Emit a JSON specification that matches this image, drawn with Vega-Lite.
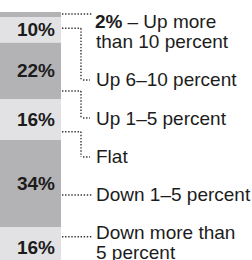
{
  "$schema": "https://vega.github.io/schema/vega-lite/v6.json",
  "width": 252,
  "height": 256,
  "autosize": {"type": "none"},
  "padding": {"top": 12, "left": 0, "right": 0, "bottom": 0},
  "background": "#ffffff",
  "config": {"view": {"stroke": null}, "text": {"font": "Liberation Sans", "color": "#1c1c1c"}},
  "data": {
    "values": [
      {"category": "Up more than 10 percent", "pct": 2, "share": "2%", "link": 0.78, "end": 0.78, "text_y": 6.25, "label": ["", "than 10 percent"], "tail": "– Up more"},
      {"category": "Up 6–10 percent", "pct": 10, "share": "10%", "link": 6.37, "end": 26.56, "text_y": 28.9, "label": ["Up 6–10 percent"]},
      {"category": "Up 1–5 percent", "pct": 22, "share": "22%", "link": 30.86, "end": 41.4, "text_y": 44.14, "label": ["Up 1–5 percent"]},
      {"category": "Flat", "pct": 16, "share": "16%", "link": 46.76, "end": 56.64, "text_y": 58.98, "label": ["Flat"]},
      {"category": "Down 1–5 percent", "pct": 34, "share": "34%", "link": 71.48, "end": 71.48, "text_y": 74.02, "label": ["Down 1–5 percent"]},
      {"category": "Down more than 5 percent", "pct": 16, "share": "16%", "link": 87.77, "end": 87.77, "text_y": 88.79, "label": ["Down more than", "5 percent"]}
    ]
  },
  "transform": [{"stack": "pct", "groupby": [], "as": ["y0", "y1"]}],
  "layer": [
    {
      "mark": {"type": "bar"},
      "encoding": {
        "x": {"datum": "all", "type": "nominal", "scale": {"range": [0, 61], "paddingInner": 0, "paddingOuter": 0}, "axis": null},
        "y": {"field": "y0", "type": "quantitative", "scale": {"domain": [0, 100], "reverse": true, "nice": false, "zero": false}, "axis": null},
        "y2": {"field": "y1"},
        "color": {
          "field": "category", "type": "nominal", "legend": null,
          "scale": {
            "domain": ["Up more than 10 percent", "Up 6–10 percent", "Up 1–5 percent", "Flat", "Down 1–5 percent", "Down more than 5 percent"],
            "range": ["#b3b3b5", "#e2e2e4", "#b3b3b5", "#e2e2e4", "#b3b3b5", "#e2e2e4"]
          }
        }
      }
    },
    {
      "transform": [
        {"filter": "datum.pct >= 5"},
        {"fold": ["y0", "y1"], "as": ["edge", "pos"]}
      ],
      "mark": {"type": "text", "fontSize": 19, "fontWeight": "bold", "align": "center", "baseline": "middle", "dx": 5.5},
      "encoding": {
        "x": {"datum": "all", "type": "nominal"},
        "y": {"aggregate": "mean", "field": "pos", "type": "quantitative"},
        "detail": {"field": "category", "type": "nominal"},
        "text": {"field": "share", "type": "nominal"}
      }
    },
    {
      "transform": [{"filter": "datum.link == datum.end"}],
      "mark": {"type": "rule", "color": "#333333", "strokeWidth": 1.4, "strokeDash": [1.4, 1.7]},
      "encoding": {
        "y": {"field": "link", "type": "quantitative"},
        "x": {"value": 62},
        "x2": {"value": 92}
      }
    },
    {
      "transform": [{"filter": "datum.link != datum.end"}],
      "mark": {"type": "rule", "color": "#333333", "strokeWidth": 1.4, "strokeDash": [1.4, 1.7]},
      "encoding": {
        "y": {"field": "link", "type": "quantitative"},
        "x": {"value": 62},
        "x2": {"value": 81}
      }
    },
    {
      "transform": [{"filter": "datum.link != datum.end"}],
      "mark": {"type": "rule", "color": "#333333", "strokeWidth": 1.4, "strokeDash": [1.4, 1.7]},
      "encoding": {
        "y": {"field": "link", "type": "quantitative"},
        "y2": {"field": "end"},
        "x": {"value": 81}
      }
    },
    {
      "transform": [{"filter": "datum.link != datum.end"}],
      "mark": {"type": "rule", "color": "#333333", "strokeWidth": 1.4, "strokeDash": [1.4, 1.7]},
      "encoding": {
        "y": {"field": "end", "type": "quantitative"},
        "x": {"value": 83},
        "x2": {"value": 90}
      }
    },
    {
      "transform": [{"filter": "datum.pct < 5"}],
      "mark": {"type": "text", "fontSize": 19, "fontWeight": "bold", "align": "left", "baseline": "alphabetic"},
      "encoding": {
        "y": {"field": "text_y", "type": "quantitative"},
        "x": {"value": 95},
        "text": {"field": "share", "type": "nominal"}
      }
    },
    {
      "transform": [{"filter": "isValid(datum.tail)"}],
      "mark": {"type": "text", "fontSize": 19, "align": "left", "baseline": "alphabetic"},
      "encoding": {
        "y": {"field": "text_y", "type": "quantitative"},
        "x": {"value": 127.5},
        "text": {"field": "tail", "type": "nominal"}
      }
    },
    {
      "mark": {"type": "text", "fontSize": 19, "align": "left", "baseline": "alphabetic", "lineHeight": 19.7},
      "encoding": {
        "y": {"field": "text_y", "type": "quantitative"},
        "x": {"value": 96},
        "text": {"field": "label", "type": "nominal"}
      }
    }
  ]
}
